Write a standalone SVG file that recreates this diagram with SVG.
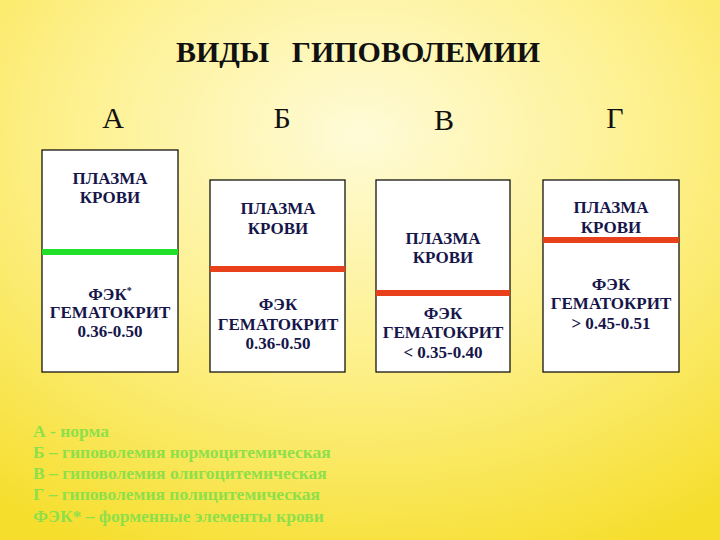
<svg xmlns="http://www.w3.org/2000/svg" width="720" height="540" viewBox="0 0 720 540">
<defs>
<radialGradient id="bg" cx="0.5" cy="0.25" r="0.85">
<stop offset="0" stop-color="#fffbd8"/>
<stop offset="0.5" stop-color="#fdf08a"/>
<stop offset="1" stop-color="#f6de2c"/>
</radialGradient>
<style>
text{font-family:"Liberation Serif","DejaVu Serif",serif}
.box{fill:#fff;stroke:#000;stroke-width:1.2}
.t{font-weight:bold;font-size:17px;fill:#16164a;text-anchor:middle}
.h{font-size:30px;fill:#111;text-anchor:middle}
.lg{font-weight:bold;font-size:17.5px;fill:#8ee04a}
</style>
</defs>
<rect width="720" height="540" fill="url(#bg)"/>
<text class="h" x="358" y="62" font-size="38" font-weight="bold" xml:space="preserve">ВИДЫ   ГИПОВОЛЕМИИ</text>
<text class="h" x="113" y="128">А</text>
<text class="h" x="282" y="128">Б</text>
<text class="h" x="444" y="130">В</text>
<text class="h" x="615" y="128">Г</text>
<g id="nodeA">
<rect class="box" x="42" y="150" width="136" height="222"/>
<rect x="42" y="249" width="136" height="6" fill="#22e02a"/>
<text class="t" x="110" y="184">ПЛАЗМА</text><text class="t" x="110" y="203">КРОВИ</text>
<text class="t" x="110" y="300">ФЭК<tspan font-size="10" dy="-6">*</tspan></text>
<text class="t" x="110" y="318">ГЕМАТОКРИТ</text><text class="t" x="110" y="337">0.36-0.50</text>
</g>
<g id="nodeB">
<rect class="box" x="210" y="180" width="135" height="192"/>
<rect x="210" y="266" width="135" height="6" fill="#e8401a"/>
<text class="t" x="278" y="214">ПЛАЗМА</text><text class="t" x="278" y="234">КРОВИ</text>
<text class="t" x="278" y="310">ФЭК</text>
<text class="t" x="278" y="330">ГЕМАТОКРИТ</text><text class="t" x="278" y="349">0.36-0.50</text>
</g>
<g id="nodeC">
<rect class="box" x="376" y="180" width="134" height="192"/>
<rect x="376" y="290" width="134" height="6" fill="#e8401a"/>
<text class="t" x="443" y="244">ПЛАЗМА</text><text class="t" x="443" y="263">КРОВИ</text>
<text class="t" x="443" y="319">ФЭК</text>
<text class="t" x="443" y="338">ГЕМАТОКРИТ</text><text class="t" x="443" y="358">&lt; 0.35-0.40</text>
</g>
<g id="nodeD">
<rect class="box" x="543" y="180" width="136" height="192"/>
<rect x="543" y="237" width="136" height="6" fill="#e8401a"/>
<text class="t" x="611" y="213">ПЛАЗМА</text><text class="t" x="611" y="233">КРОВИ</text>
<text class="t" x="611" y="290">ФЭК</text>
<text class="t" x="611" y="309">ГЕМАТОКРИТ</text><text class="t" x="611" y="329">&gt; 0.45-0.51</text>
</g>
<g id="connectors"/>
<g id="legend">
<text class="lg" x="33" y="437">А - норма</text>
<text class="lg" x="33" y="458">Б – гиповолемия нормоцитемическая</text>
<text class="lg" x="33" y="479">В – гиповолемия олигоцитемическая</text>
<text class="lg" x="33" y="500">Г – гиповолемия полицитемическая</text>
<text class="lg" x="33" y="522">ФЭК* – форменные элементы крови</text>
</g>
</svg>
